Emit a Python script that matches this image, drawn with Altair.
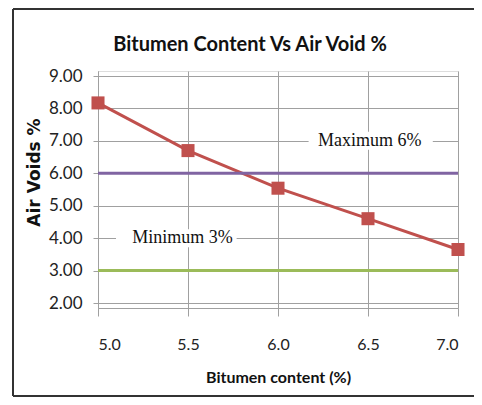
import altair as alt
import pandas as pd

bitumen = [5.0, 5.5, 6.0, 6.5, 7.0]
air_voids = [8.17, 6.70, 5.54, 4.60, 3.65]
limit_x = [5.0, 7.0]
max_y = [6.0, 6.0]
min_y = [3.0, 3.0]
labels = ["Maximum 6%", "Minimum 3%"]
label_x = [6.51, 5.47]
label_y = [7.0, 4.0]
box_x1 = [6.17, 5.10]
box_x2 = [6.86, 5.77]
y_ticks = [2, 3, 4, 5, 6, 7, 8, 9]
title_text = ["Bitumen Content Vs Air Void %"]

df = pd.DataFrame({"x": bitumen, "y": air_voids})
df_max = pd.DataFrame({"x": limit_x, "y": max_y})
df_min = pd.DataFrame({"x": limit_x, "y": min_y})
df_lab = pd.DataFrame({"label": labels, "x": label_x, "y": label_y,
                       "x1": box_x1, "x2": box_x2})

FONT = "Lato"
xs = alt.Scale(domain=[5.0, 7.0], nice=False, zero=False)
ys = alt.Scale(domain=[2.0, 9.0], nice=False, zero=False)

x_axis = alt.Axis(values=bitumen, format=".1f", title="Bitumen content (%)",
                  grid=True, gridColor="#a0a0a0", gridWidth=1, labelOverlap=False,
                  domainColor="#a0a0a0", tickColor="#a0a0a0", tickSize=8,
                  labelPadding=20, labelFont=FONT, labelFontSize=16,
                  labelColor="#222", titleFont=FONT, titleFontSize=16,
                  titleFontWeight="bold", titleColor="#111", titlePadding=17)
y_axis = alt.Axis(values=y_ticks, format=".2f", title="Air Voids %",
                  grid=True, gridColor="#a0a0a0", gridWidth=1, labelOverlap=False,
                  domainColor="#a0a0a0", tickColor="#a0a0a0", tickSize=5,
                  labelPadding=11, labelFont=FONT, labelFontSize=17,
                  labelColor="#222", titleFont="DejaVu Sans", titleFontSize=17,
                  titleFontWeight="bold", titleColor="#111",
                  titleX=-55, titleY=101, titleAlign="center")


def X(field):
    return alt.X(field, scale=xs, axis=x_axis, title="Bitumen content (%)")


def Y(field):
    return alt.Y(field, scale=ys, axis=y_axis, title="Air Voids %")


one = pd.DataFrame({"a": [0]})
frame_left = alt.Chart(one).mark_rule(color="#333", strokeWidth=2).encode(
    x=alt.value(-85), y=alt.value(-62), y2=alt.value(325))
frame_top = alt.Chart(one).mark_rule(color="#333", strokeWidth=2).encode(
    x=alt.value(-85), x2=alt.value(400), y=alt.value(-62))
frame_bottom = alt.Chart(one).mark_rule(color="#333", strokeWidth=2).encode(
    x=alt.value(-85), x2=alt.value(400), y=alt.value(325))

ttl = alt.Chart(pd.DataFrame({"t": title_text})).mark_text(
    font=FONT, fontSize=20, fontWeight="bold", color="#111", baseline="middle"
).encode(x=alt.value(152), y=alt.value(-26), text="t:N")

base = alt.Chart(df).mark_line(color="#c0504d", strokeWidth=3).encode(
    x=X("x:Q"), y=Y("y:Q"))
pts = alt.Chart(df).mark_point(shape="square", filled=True, size=170,
                               color="#c0504d", opacity=1).encode(
    x=X("x:Q"), y=Y("y:Q"))
maxl = alt.Chart(df_max).mark_line(color="#8064a2", strokeWidth=3).encode(
    x=X("x:Q"), y=Y("y:Q"))
minl = alt.Chart(df_min).mark_line(color="#9bbb59", strokeWidth=3).encode(
    x=X("x:Q"), y=Y("y:Q"))
boxes = alt.Chart(df_lab).mark_bar(color="white", height=18).encode(
    x=X("x1:Q"), x2="x2:Q", y=Y("y:Q"))
txt = alt.Chart(df_lab).mark_text(font="Liberation Serif", fontSize=18,
                                  color="#111", baseline="middle").encode(
    x=X("x:Q"), y=Y("y:Q"), text="label:N")

chart = alt.layer(base, maxl, minl, pts, boxes, txt, ttl,
                  frame_left, frame_top, frame_bottom).properties(
    width=360, height=237,
    autosize=alt.AutoSizeParams(type="none"),
    padding={"left": 90, "top": 63, "right": 16, "bottom": 89},
).configure_view(stroke=None).configure(background="white")

chart.save("out.html", embed_options={"renderer": "svg", "actions": False})
